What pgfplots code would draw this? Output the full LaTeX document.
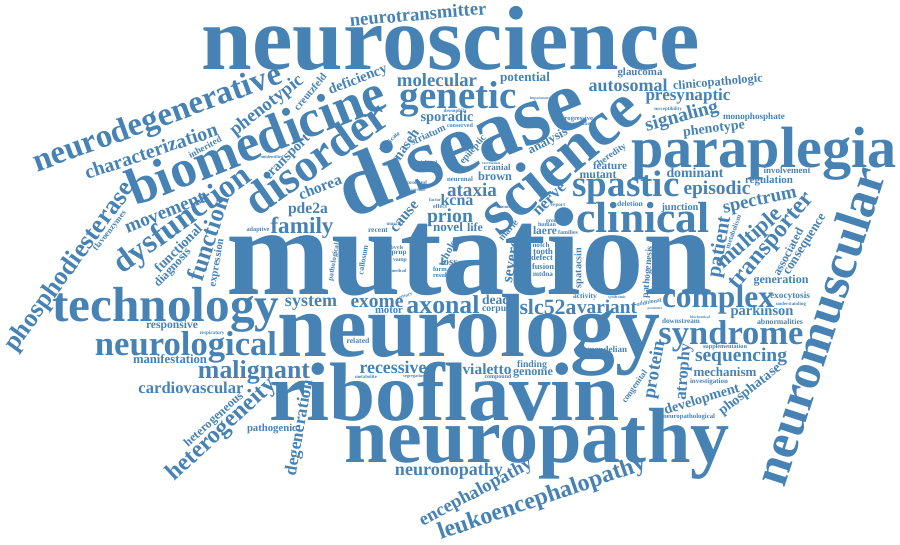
\documentclass[border=0pt]{standalone}
\usepackage{fontspec}
\setmainfont{Liberation Serif}
\usepackage{graphicx}
\usepackage{pgfplots}
\usepackage{pgfplotstable}
\pgfplotsset{compat=1.18}
\definecolor{wc}{RGB}{70,130,180}
\newcommand{\cloudword}[2]{\resizebox{#1pt}{!}{\bfseries #2}}
\pgfplotstableread[col sep=comma]{
px,py,ww,aa,word
451,39,498,0,neuroscience
470,252,486,0,mutation
469,335,382,0,neurology
445,392,350,0,riboflavin
537,444,385,0,neuropathy
460,143,260,22,disease
558,160,190,40,science
764,154,265,0,paraplegia
819,326,330,72,neuromuscular
256,140,273,21.5,biomedicine
316,157,165,35,disorder
183,221,161,36,dysfunction
166,310,227,0,technology
186,347,182,0,neurological
643,218,133,0,clinical
626,188,107,0,spastic
70,267,203,54,phosphodiesterase
158,120,262,20,neurodegenerative
151,151,139,18.5,characterization
267,106,88,38,phenotypic
458,99,117,0,genetic
437,80,80,0,molecular
731,336,145,0,syndrome
718,300,112,0,complex
773,242,120,50,transporter
750,239,80,42,multiple
760,202,75,12,spectrum
720,247,62,80,patient
717,190,67,0,episodic
254,372,112,0,malignant
443,305,73,0,axonal
377,303,53,0,exome
222,430,140,43,heterogeneity
542,499,218,19,leukoencephalopathy
476,493,125,28,encephalopathy
449,471,108,0,neuronopathy
741,357,92,0,sequencing
191,388,105,0,cardiovascular
393,367,67,0,recessive
682,117,75,15,signaling
688,96,85,0,presynaptic
628,85,79,0,autosomal
718,83,90,5,clinicopathologic
640,73,45,0,glaucoma
714,129,62,7,phenotype
754,117,62,0,monophosphate
787,170,47,0,involvement
695,173,57,0,dominant
769,181,48,0,regulation
612,155,33,35,heredity
610,166,34,0,feature
598,175,37,0,mutant
418,14,137,5,neurotransmitter
310,92,45,50,creutzfeld
358,80,62,21,deficiency
525,78,50,0,potential
447,118,53,0,sporadic
404,147,41,55,rnaseh
428,135,37,25,striatum
390,142,26,45,implicate
473,150,35,50,epileptic
548,142,43,28,analysis
497,167,27,0,cranial
495,176,34,0,brown
288,158,58,45,transport
205,147,36,28,inherited
165,213,85,22,movement
110,231,48,52,flavoenzymes
178,248,61,45,functional
173,268,48,47,diagnosis
208,238,88,72,function
217,263,48,80,expression
302,228,63,0,family
308,210,40,0,pde2a
320,187,45,22,chorea
311,303,52,0,system
172,326,52,0,responsive
212,333,25,0,respiratory
170,359,74,0,manifestation
214,420,75,42,heterogeneous
272,429,50,0,pathogenic
300,428,97,80,degeneration
472,190,50,0,ataxia
457,200,33,0,kcna
450,218,46,0,prion
405,217,36,50,cause
448,227,30,0,novel
475,227,16,0,life
550,200,40,45,nerve
508,230,25,50,marie
545,231,24,0,laere
541,245,17,0,notch
543,251,20,0,tooth
542,258,22,0,defect
543,267,22,0,fusion
543,274,20,0,mtdna
579,268,40,90,spatacsin
585,297,24,0,activity
496,300,28,0,dead
496,310,28,0,corpus
548,307,57,0,slc52a
607,307,60,0,variant
389,311,28,0,motor
363,260,30,80,callosum
334,262,38,80,pathological
447,253,28,60,whole
512,262,42,80,severe
449,262,17,0,loss
440,269,14,0,form
441,275,16,0,result
399,254,15,0,prnp
400,261,14,0,vamp
358,341,23,0,related
366,377,22,0,metabolite
487,369,49,0,vialetto
532,365,30,0,finding
533,374,40,0,genome
498,377,27,0,compound
414,376,22,0,segregation
630,204,26,0,deletion
680,208,37,0,junction
733,232,35,70,metabolism
788,252,52,62,associated
806,245,70,58,consequence
648,272,52,85,pathogenesis
781,281,55,0,generation
790,296,40,0,exocytosis
762,312,63,0,parkinson
791,304,30,0,understanding
780,322,46,0,abnormalities
681,321,38,0,downstream
725,347,44,0,supplementation
607,349,40,0,mendelian
655,370,58,80,protein
684,372,57,85,atrophy
635,387,38,55,congenital
725,372,63,0,mechanism
709,382,38,0,investigation
702,400,78,17,development
689,417,52,0,neuropathological
750,390,75,38,phosphatase
668,109,28,0,susceptibility
577,119,32,0,progressive
578,124,30,0,accumulation
460,125,26,0,conserved
455,111,23,0,drosophila
540,99,20,0,impairment
425,163,25,0,peripheral
460,179,26,0,neuronal
491,163,18,0,correlation
272,157,23,0,unidentified
258,230,23,0,adaptive
378,230,20,0,recent
394,224,15,0,muscle
417,183,20,0,proband
418,190,15,0,various
435,200,12,0,factor
440,206,14,0,effect
505,207,17,0,common
558,206,14,0,report
553,222,14,0,group
547,224,18,0,human
568,232,20,0,families
397,247,13,0,bvvls
399,271,15,0,method
405,297,16,20,sensory
649,302,25,10,additional
655,309,15,0,promoter
700,317,20,0,biochemical
617,298,18,0,syndromic
}\words
\begin{document}
\begin{tikzpicture}
\begin{axis}[
  scale only axis, width=900pt, height=544pt,
  xmin=0, xmax=900, ymin=0, ymax=544, y dir=reverse,
  hide axis, clip=false,
]
\addplot[only marks, mark=none,
  visualization depends on={\thisrow{ww} \as \wordw},
  visualization depends on={\thisrow{aa} \as \wordang},
  point meta=explicit symbolic,
  nodes near coords={\cloudword{\wordw}{\pgfplotspointmeta}},
  every node near coord/.append style={anchor=center, inner sep=0pt, outer sep=0pt, rotate=\wordang, text=wc},
] table[x=px, y=py, meta=word] {\words};
\end{axis}
\pgfresetboundingbox
\path[use as bounding box] (current axis.south west) rectangle (current axis.north east);
\end{tikzpicture}
\end{document}
